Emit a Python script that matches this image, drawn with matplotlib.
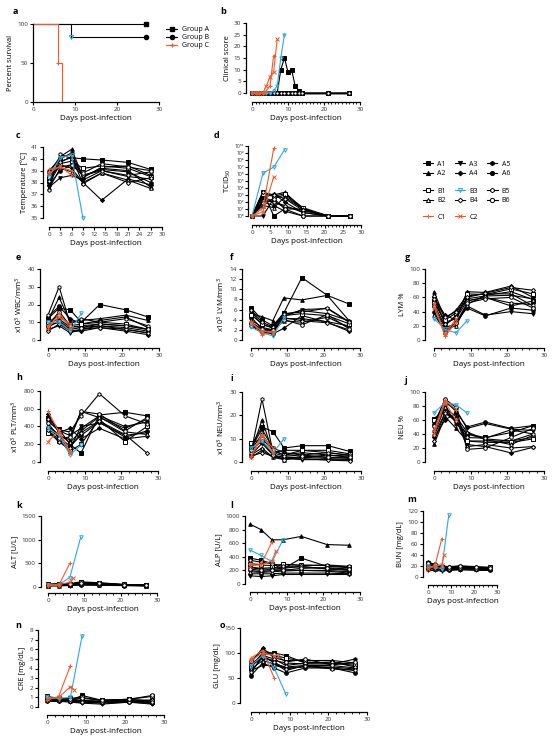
import matplotlib
matplotlib.use("Agg")
import matplotlib.pyplot as plt
from matplotlib.lines import Line2D
from matplotlib.ticker import MultipleLocator, FixedLocator
import numpy as np

plt.rcParams['font.family'] = ['Open Sans', 'DejaVu Sans']
plt.rcParams['mathtext.default'] = 'regular'

ORANGE = "#EE5A2A"
CYAN = "#2AAAE2"

# sampling days
days = [0, 3, 6, 9, 14, 21, 27]
days_b3 = [0, 3, 6, 9]
days_c1 = [0, 3, 6]
days_c2 = [0, 3, 6, 7]
clin_days = [0, 1, 2, 3, 4, 5, 6, 7, 8, 9, 10, 11, 12, 13, 14, 21, 27]
clin_days_b3 = [0, 1, 2, 3, 4, 5, 6, 7, 8, 9]
clin_days_c1 = [0, 1, 2, 3, 4, 5, 6]
clin_days_c2 = [0, 1, 2, 3, 4, 5, 6, 7]

# survival (a)
surv_days_a = [0, 27]
surv_a = [100, 100]
surv_days_b = [0, 9, 27]
surv_b = [100, 83.3, 83.3]
surv_days_c = [0, 6, 7]
surv_c = [100, 50, 0]

# clinical score (b)
clin_none = [0, 0, 0, 0, 0, 0, 0, 0, 0, 0, 0, 0, 0, 0, 0, 0, 0]
clin_a1 = [0, 0, 0, 0, 0, 0, 0, 0, 10, 15, 9, 10, 3, 1, 0, 0, 0]
clin_b3 = [0, 0, 0, 0, 0, 0, 1, 3, 15, 25]
clin_c1 = [0, 0, 0, 0, 1, 3, 16]
clin_c2 = [0, 0, 0, 0, 3, 7, 9, 23]

temp = {
    "A1": [38.2, 39.8, 40.1, 40.0, 39.9, 39.7, 39.1],
    "A2": [38.8, 40.2, 40.8, 38.5, 39.2, 39.0, 37.6],
    "A3": [37.6, 38.4, 38.6, 38.2, 39.0, 38.5, 38.3],
    "A4": [38.0, 39.5, 39.2, 38.0, 36.5, 38.3, 37.8],
    "A5": [39.0, 40.0, 40.5, 38.4, 39.3, 39.4, 38.6],
    "A6": [37.8, 39.0, 39.5, 38.6, 39.1, 38.9, 38.0],
    "B1": [38.5, 39.6, 39.8, 39.2, 39.4, 39.2, 38.5],
    "B2": [37.5, 39.2, 38.9, 38.0, 38.8, 38.2, 37.5],
    "B4": [38.1, 39.7, 40.2, 37.9, 38.8, 38.0, 38.4],
    "B5": [37.4, 40.4, 40.0, 38.6, 39.0, 38.6, 38.9],
    "B6": [38.9, 39.3, 39.5, 38.8, 39.6, 39.3, 39.0],
    "B3": [38.5, 40.1, 40.3, 35.0],
    "C1": [39.1, 39.3, 39.0],
    "C2": [38.8, 39.4, 38.6],
}

# log10 TCID50
tcid_exp = {
    "A1": [0, 3.5, 0, 1.0, 1.0, 0, 0],
    "A2": [0, 3.0, 3.0, 3.4, 1.0, 0, 0],
    "A3": [0, 0, 2.5, 3.0, 1.0, 0, 0],
    "A4": [0, 2.5, 3.2, 2.0, 0.5, 0, 0],
    "A5": [0, 2.8, 2.0, 1.3, 0.8, 0, 0],
    "A6": [0, 2.0, 1.5, 0.7, 0, 0, 0],
    "B1": [0, 3.2, 2.8, 3.2, 1.2, 0, 0],
    "B2": [0, 1.5, 1.2, 2.7, 1.0, 0, 0],
    "B4": [0, 3.4, 3.0, 2.5, 0.8, 0, 0],
    "B5": [0, 2.2, 2.0, 1.5, 0.5, 0, 0],
    "B6": [0, 1.8, 2.5, 1.0, 0, 0, 0],
    "B3": [0, 6.1, 7.0, 9.5],
    "C1": [0, 1.1, 9.7],
    "C2": [0, 0.6, 5.6],
}
tcid_ticklabels = ["10⁰", "10¹", "10²", "10³", "10⁴", "10⁵",
                   "10⁶", "10⁷", "10⁸", "10⁹", "10¹⁰"]

wbc = {
    "A1": [12, 18, 17, 10, 20, 17, 13],
    "A2": [11, 24, 10, 11, 12, 14, 11],
    "A3": [6, 8, 4, 6, 8, 6, 4],
    "A4": [8, 10, 5, 5, 7, 5, 3],
    "A5": [9, 12, 7, 8, 9, 8, 6],
    "A6": [13, 19, 12, 9, 11, 13, 7],
    "B1": [10, 14, 8, 9, 10, 9, 6],
    "B2": [7, 11, 6, 7, 8, 7, 5],
    "B4": [5, 9, 5, 6, 7, 6, 4],
    "B5": [14, 30, 9, 12, 10, 12, 8],
    "B6": [8, 16, 8, 7, 9, 8, 6],
    "B3": [10, 10, 5, 15],
    "C1": [6, 15, 7],
    "C2": [8, 13, 9],
}

lym = {
    "A1": [6.4, 4.0, 2.8, 5.3, 12.3, 8.8, 7.1],
    "A2": [5.2, 4.6, 3.8, 8.3, 7.9, 8.8, 3.8],
    "A3": [4.0, 2.5, 2.0, 4.6, 6.0, 6.2, 3.5],
    "A4": [3.2, 1.5, 1.2, 2.3, 4.8, 3.5, 1.7],
    "A5": [5.7, 3.0, 2.5, 5.0, 5.8, 5.2, 3.8],
    "A6": [4.5, 2.2, 1.6, 4.2, 4.2, 3.6, 2.8],
    "B1": [5.0, 3.2, 2.3, 4.8, 5.2, 4.8, 3.2],
    "B2": [3.6, 2.0, 1.8, 3.8, 3.5, 4.5, 2.5],
    "B4": [2.8, 1.6, 1.5, 4.4, 3.8, 3.4, 2.0],
    "B5": [6.0, 3.5, 2.6, 5.2, 5.5, 6.3, 3.6],
    "B6": [3.3, 2.2, 2.0, 4.0, 3.0, 5.0, 2.2],
    "B3": [2.5, 1.5, 0.8, 4.3],
    "C1": [3.8, 1.0, 1.6],
    "C2": [3.4, 1.8, 1.6],
}

lym_pct = {
    "A1": [55, 25, 30, 55, 60, 48, 55],
    "A2": [68, 30, 42, 62, 65, 65, 48],
    "A3": [45, 18, 22, 48, 35, 40, 37],
    "A4": [60, 35, 28, 68, 67, 76, 60],
    "A5": [50, 20, 35, 58, 62, 63, 58],
    "A6": [40, 12, 25, 45, 34, 45, 42],
    "B1": [52, 28, 38, 65, 64, 72, 65],
    "B2": [35, 15, 20, 50, 63, 68, 57],
    "B4": [62, 22, 32, 60, 66, 74, 70],
    "B5": [58, 32, 40, 55, 60, 52, 50],
    "B6": [48, 10, 24, 52, 58, 60, 45],
    "B3": [30, 15, 10, 27],
    "C1": [52, 5, 25],
    "C2": [46, 8, 30],
}

plt_count = {
    "A1": [500, 370, 200, 100, 530, 560, 520],
    "A2": [420, 300, 250, 570, 500, 380, 480],
    "A3": [350, 260, 150, 400, 440, 300, 330],
    "A4": [540, 330, 380, 260, 380, 260, 290],
    "A5": [460, 350, 300, 380, 520, 400, 450],
    "A6": [380, 280, 180, 300, 450, 280, 350],
    "B1": [330, 240, 120, 200, 480, 230, 400],
    "B2": [400, 310, 220, 350, 510, 340, 310],
    "B4": [360, 220, 160, 330, 460, 310, 100],
    "B5": [480, 360, 340, 520, 770, 520, 430],
    "B6": [440, 270, 280, 570, 540, 350, 500],
    "B3": [380, 300, 80, 190],
    "C1": [570, 340, 120],
    "C2": [230, 350, 100],
}

neu = {
    "A1": [7, 15, 13, 6, 7, 7, 4.5],
    "A2": [4, 18, 4, 5, 5, 4, 3],
    "A3": [2, 5, 2, 1.5, 1, 1, 0.8],
    "A4": [3, 8, 3, 2, 2, 1.5, 1],
    "A5": [5, 12, 5, 3, 4, 3, 2.5],
    "A6": [6, 14, 6, 4, 3, 2, 1.5],
    "B1": [8, 10, 5, 3, 5, 5, 3.5],
    "B2": [3, 6, 2, 1, 2, 3, 2],
    "B4": [2.5, 4, 2.5, 2, 1.5, 0.8, 0.5],
    "B5": [4, 27, 4, 2.5, 3, 4, 2.8],
    "B6": [5, 9, 3, 1, 2.5, 2, 2],
    "B3": [6, 9, 4, 10],
    "C1": [2.5, 12, 4],
    "C2": [2, 11, 6],
}

neu_pct = {
    "A1": [62, 75, 60, 40, 35, 42, 52],
    "A2": [25, 65, 48, 30, 30, 30, 40],
    "A3": [50, 85, 75, 48, 55, 47, 45],
    "A4": [35, 60, 70, 25, 22, 13, 21],
    "A5": [45, 80, 55, 40, 33, 30, 35],
    "A6": [55, 88, 72, 50, 57, 48, 52],
    "B1": [60, 72, 60, 30, 28, 28, 33],
    "B2": [40, 78, 65, 43, 32, 25, 38],
    "B4": [30, 70, 62, 22, 25, 20, 22],
    "B5": [38, 70, 58, 35, 34, 46, 40],
    "B6": [52, 90, 78, 18, 20, 35, 48],
    "B3": [70, 85, 82, 70],
    "C1": [45, 88, 75],
    "C2": [40, 85, 60],
}

alt = {
    "A1": [40, 60, 50, 100, 80, 45, 35],
    "A2": [30, 40, 45, 70, 60, 40, 30],
    "A3": [20, 25, 30, 40, 35, 30, 25],
    "A4": [35, 45, 40, 90, 70, 35, 40],
    "A5": [50, 55, 60, 80, 65, 50, 45],
    "A6": [25, 35, 35, 50, 45, 30, 30],
    "B1": [60, 70, 70, 110, 90, 55, 40],
    "B2": [30, 30, 40, 60, 50, 35, 25],
    "B4": [45, 50, 55, 75, 60, 40, 35],
    "B5": [35, 40, 45, 65, 55, 35, 30],
    "B6": [55, 65, 60, 95, 85, 50, 45],
    "B3": [40, 50, 200, 1050],
    "C1": [30, 40, 500],
    "C2": [40, 50, 100, 190],
}

alp = {
    "A1": [380, 350, 300, 220, 380, 260, 240],
    "A2": [880, 800, 650, 650, 700, 580, 570],
    "A3": [120, 110, 120, 140, 140, 140, 140],
    "A4": [150, 150, 150, 160, 160, 160, 150],
    "A5": [250, 230, 240, 250, 250, 230, 210],
    "A6": [200, 180, 200, 210, 200, 200, 180],
    "B1": [300, 280, 270, 290, 280, 270, 250],
    "B2": [180, 170, 180, 190, 200, 190, 160],
    "B4": [240, 220, 220, 230, 260, 220, 200],
    "B5": [350, 320, 300, 260, 270, 280, 260],
    "B6": [220, 200, 210, 200, 230, 240, 220],
    "B3": [500, 420, 330, 650],
    "C1": [300, 290, 620],
    "C2": [270, 280, 340, 480],
}

bun = {
    "A1": [25, 20, 18, 17, 18, 17, 16],
    "A2": [18, 16, 15, 14, 15, 15, 14],
    "A3": [12, 12, 11, 12, 13, 12, 12],
    "A4": [28, 22, 20, 18, 20, 18, 17],
    "A5": [20, 18, 17, 16, 17, 16, 15],
    "A6": [15, 14, 14, 13, 14, 14, 13],
    "B1": [22, 19, 18, 17, 19, 17, 18],
    "B2": [16, 15, 14, 14, 16, 15, 14],
    "B4": [24, 21, 19, 18, 18, 17, 16],
    "B5": [19, 17, 16, 15, 16, 15, 15],
    "B6": [26, 23, 20, 19, 20, 19, 17],
    "B3": [20, 18, 15, 112],
    "C1": [18, 20, 70],
    "C2": [15, 20, 22, 40],
}

cre = {
    "A1": [0.8, 0.8, 0.7, 1.2, 0.7, 0.8, 0.6],
    "A2": [0.7, 0.7, 0.6, 0.6, 0.5, 0.6, 0.5],
    "A3": [0.6, 0.6, 0.5, 0.4, 0.3, 0.5, 0.3],
    "A4": [0.9, 0.8, 0.8, 0.7, 0.6, 0.7, 0.7],
    "A5": [0.7, 0.7, 0.7, 0.5, 0.5, 0.6, 0.4],
    "A6": [0.6, 0.6, 0.6, 0.5, 0.4, 0.5, 0.4],
    "B1": [1.1, 0.9, 0.9, 1.0, 0.7, 0.8, 1.1],
    "B2": [0.8, 0.7, 0.7, 0.6, 0.5, 0.6, 0.5],
    "B4": [0.9, 0.8, 0.8, 0.6, 0.6, 0.7, 0.7],
    "B5": [0.7, 0.7, 0.6, 0.5, 0.5, 0.5, 0.5],
    "B6": [1.0, 0.9, 0.8, 0.9, 0.7, 0.8, 1.2],
    "B3": [1.0, 0.9, 1.0, 7.4],
    "C1": [0.7, 1.1, 4.3],
    "C2": [0.8, 1.0, 2.1, 1.8],
}

glu = {
    "A1": [70, 100, 100, 95, 80, 80, 75],
    "A2": [60, 95, 80, 65, 75, 70, 65],
    "A3": [65, 75, 75, 70, 72, 72, 68],
    "A4": [80, 110, 90, 85, 85, 85, 80],
    "A5": [75, 90, 85, 80, 78, 78, 88],
    "A6": [55, 80, 70, 60, 70, 70, 60],
    "B1": [72, 100, 95, 90, 82, 80, 78],
    "B2": [68, 85, 78, 72, 75, 75, 70],
    "B4": [78, 95, 88, 75, 80, 82, 72],
    "B5": [62, 92, 82, 68, 74, 68, 66],
    "B6": [85, 105, 98, 82, 88, 76, 82],
    "B3": [75, 95, 70, 18],
    "C1": [90, 105, 50],
    "C2": [85, 100, 95, 95],
}

# marker, colour, filled
styles = {
    "A1": ("s", "k", True), "A2": ("^", "k", True), "A3": ("v", "k", True),
    "A4": ("D", "k", True), "A5": ("h", "k", True), "A6": ("o", "k", True),
    "B1": ("s", "k", False), "B2": ("^", "k", False), "B3": ("v", CYAN, False),
    "B4": ("D", "k", False), "B5": ("h", "k", False), "B6": ("o", "k", False),
    "C1": ("+", ORANGE, True), "C2": ("x", ORANGE, True),
}
order = ["A1", "A2", "A3", "A4", "A5", "A6", "B1", "B2", "B4", "B5", "B6", "B3", "C1", "C2"]
std_days = {n: days for n in order}
std_days.update({"B3": days_b3, "C1": days_c1, "C2": days_c2})

W, H = 558, 745
fig = plt.figure(figsize=(W / 100, H / 100), dpi=100)


def add_ax(x0, y0, x1, y1):
    return fig.add_axes([x0 / W, 1 - y1 / H, (x1 - x0) / W, (y1 - y0) / H])


def line_kw(name, ms=2.6):
    m, c, filled = styles[name]
    kw = dict(color=c, marker=m, lw=0.8, ms=ms, mew=0.7, clip_on=False)
    if m == "D":
        kw["ms"] = ms * 0.8
    if not filled:
        kw["mfc"] = "white" if c == "k" else "none"
    return kw


def draw(ax, data, day_map=std_days, ms=2.6):
    for name in order:
        if name not in data:
            continue
        vals = data[name]
        x = day_map[name][:len(vals)]
        ax.plot(x, vals, **line_kw(name, ms))


def style(ax, ylim, yticks, ylabel, xoff=8, yoff=7, xmajor=None, xminor=2,
          yticklabels=None, log=False):
    ax.set_xlim(0, 30)
    if log:
        ax.set_yscale("log")
    ax.set_ylim(*ylim)
    for s in ["top", "right"]:
        ax.spines[s].set_visible(False)
    ax.spines["bottom"].set_position(("outward", xoff * 0.72))
    ax.spines["left"].set_position(("outward", yoff * 0.72))
    for s in ["bottom", "left"]:
        ax.spines[s].set_linewidth(0.9)
    ax.set_xticks(xmajor if xmajor is not None else [0, 10, 20, 30])
    if xminor:
        ax.xaxis.set_minor_locator(MultipleLocator(xminor))
    ax.yaxis.set_major_locator(FixedLocator(yticks))
    ax.yaxis.set_minor_locator(FixedLocator([]))
    if yticklabels is not None:
        ax.set_yticklabels(yticklabels)
    ax.tick_params(labelsize=4.5, length=2.2, width=0.8, pad=1.5, colors="k",
                   labelcolor="#333333")
    ax.tick_params(which="minor", length=1.4, width=0.6)
    ax.set_ylabel(ylabel, fontsize=5.5, labelpad=2)
    ax.set_xlabel("Days post-infection", fontsize=5.8, labelpad=2)


def letter(x, y, s):
    fig.text(x / W, 1 - y / H, s, fontsize=6.5, fontweight="bold", ha="left", va="center")


# ---- a: survival
ax = add_ax(33, 24, 159, 102)
ax.step(surv_days_a, surv_a, where="post", color="k", lw=0.8, marker="s", ms=3,
        markevery=[len(surv_a) - 1], clip_on=False)
ax.step(surv_days_b, surv_b, where="post", color="k", lw=0.8, marker="o", ms=3,
        markevery=[len(surv_b) - 1], clip_on=False)
ax.plot(surv_days_b[1], surv_b[1], marker="v", color=CYAN, ms=3, mfc="none", mew=0.8)
ax.step(surv_days_c, surv_c, where="post", color=ORANGE, lw=0.8, clip_on=False)
ax.plot(surv_days_c[1], surv_c[1], marker="+", color=ORANGE, ms=3.5, mew=0.8)
style(ax, (0, 100), [0, 50, 100], "Percent survival", xoff=0, yoff=0, xminor=None)
hs = [Line2D([], [], color="k", marker="s", ms=3, lw=0.8),
      Line2D([], [], color="k", marker="o", ms=3, lw=0.8),
      Line2D([], [], color=ORANGE, marker="+", ms=3.5, lw=0.8)]
fig.legend(hs, ["Group A", "Group B", "Group C"], loc="upper left",
           bbox_to_anchor=(160 / W, 1 - 20 / H), frameon=False, fontsize=5,
           handlelength=1.6, labelspacing=0.15, handletextpad=0.6)
letter(13, 11, "a")

# ---- b: clinical score
ax = add_ax(252, 23, 360, 93)
clin = {n: clin_none for n in order if n[0] in "AB"}
clin.update({"A1": clin_a1, "B3": clin_b3, "C1": clin_c1, "C2": clin_c2})
clin_map = {n: clin_days for n in order}
clin_map.update({"B3": clin_days_b3, "C1": clin_days_c1, "C2": clin_days_c2})
draw(ax, clin, clin_map, ms=2.4)
style(ax, (0, 30), [0, 5, 10, 15, 20, 25, 30], "Clinical score", xoff=9, yoff=6, xminor=1)
letter(220, 12, "b")

# ---- c: temperature
ax = add_ax(49, 147, 162, 218)
draw(ax, temp)
style(ax, (35, 41), [35, 36, 37, 38, 39, 40, 41], "Temperature [ºC]", xoff=9, yoff=6,
      xmajor=[0, 3, 6, 9, 12, 15, 18, 21, 24, 27, 30], xminor=None)
letter(16, 135, "c")

# ---- d: TCID50
ax = add_ax(252, 146, 361, 216)
draw(ax, {n: np.power(10.0, v) for n, v in tcid_exp.items()})
style(ax, (1, 1e10), [10.0 ** k for k in range(11)], "TCID$_{50}$", xoff=9, yoff=4,
      xmajor=[0, 5, 10, 15, 20, 25, 30], xminor=1,
      yticklabels=tcid_ticklabels, log=True)
ax.tick_params(axis="y", labelsize=3.6, pad=1)
ax.yaxis.labelpad = 1
letter(214, 135, "d")

# ---- animal legend
hA = [Line2D([], [], **line_kw(n, 3)) for n in ["A1", "A2", "A3", "A4", "A5", "A6"]]
hB = [Line2D([], [], **line_kw(n, 3)) for n in ["B1", "B2", "B3", "B4", "B5", "B6"]]
hC = [Line2D([], [], **line_kw(n, 3)) for n in ["C1", "C2"]]
for hs, labs, y in [(hA, ["A1", "A2", "A3", "A4", "A5", "A6"], 156),
                    (hB, ["B1", "B2", "B3", "B4", "B5", "B6"], 183),
                    (hC, ["C1", "C2"], 209)]:
    fig.legend(hs, labs, loc="upper left", bbox_to_anchor=(418 / W, 1 - y / H),
               ncol=3, frameon=False, fontsize=5, handlelength=1.5,
               labelspacing=0.3, handletextpad=0.6, columnspacing=1.3,
               borderpad=0.2)

# ---- row e f g
ax = add_ax(48, 269, 159, 340)
draw(ax, wbc)
style(ax, (0, 40), [0, 10, 20, 30, 40], "x10$^3$ WBC/mm$^3$", xoff=8, yoff=8)
letter(16, 258, "e")

ax = add_ax(251, 269, 360, 340)
draw(ax, lym)
style(ax, (0, 14), [0, 2, 4, 6, 8, 10, 12, 14], "x10$^3$ LYM/mm$^3$", xoff=8, yoff=9)
letter(230, 258, "f")

ax = add_ax(434, 269, 544, 340)
draw(ax, lym_pct)
style(ax, (0, 100), [0, 20, 40, 60, 80, 100], "LYM %", xoff=8, yoff=9)
letter(405, 258, "g")

# ---- row h i j
ax = add_ax(48, 391, 158, 462)
draw(ax, plt_count)
style(ax, (0, 800), [0, 200, 400, 600, 800], "x10$^3$ PLT/mm$^3$", xoff=9, yoff=8)
letter(16, 378, "h")

ax = add_ax(251, 392, 361, 462)
draw(ax, neu)
style(ax, (0, 30), [0, 10, 20, 30], "x10$^3$ NEU/mm$^3$", xoff=9, yoff=9)
letter(230, 379, "i")

ax = add_ax(434, 392, 544, 462)
draw(ax, neu_pct)
style(ax, (0, 100), [0, 20, 40, 60, 80, 100], "NEU %", xoff=9, yoff=9)
letter(405, 380, "j")

# ---- row k l m
ax = add_ax(48, 516, 157, 587)
draw(ax, alt)
style(ax, (0, 1500), [0, 500, 1000, 1500], "ALT [U/L]", xoff=6, yoff=7)
letter(16, 505, "k")

ax = add_ax(250, 516, 360, 584)
draw(ax, alp)
style(ax, (0, 1000), [0, 200, 400, 600, 800, 1000], "ALP [U/L]", xoff=8, yoff=5)
letter(230, 505, "l")

ax = add_ax(428, 511, 497, 577)
draw(ax, bun)
style(ax, (0, 120), [0, 20, 40, 60, 80, 100, 120], "BUN [mg/dL]", xoff=8, yoff=5)
letter(407, 499, "m")

# ---- row n o
ax = add_ax(47, 630, 164, 707)
draw(ax, cre)
style(ax, (0, 8), [0, 1, 2, 3, 4, 5, 6, 7, 8], "CRE [mg/dL]", xoff=8, yoff=9)
letter(15, 625, "n")

ax = add_ax(251, 628, 367, 703)
draw(ax, glu)
style(ax, (0, 150), [0, 50, 100, 150], "GLU [mg/dL]", xoff=9, yoff=11)
letter(220, 625, "o")

fig.savefig("out.png", dpi=100)
